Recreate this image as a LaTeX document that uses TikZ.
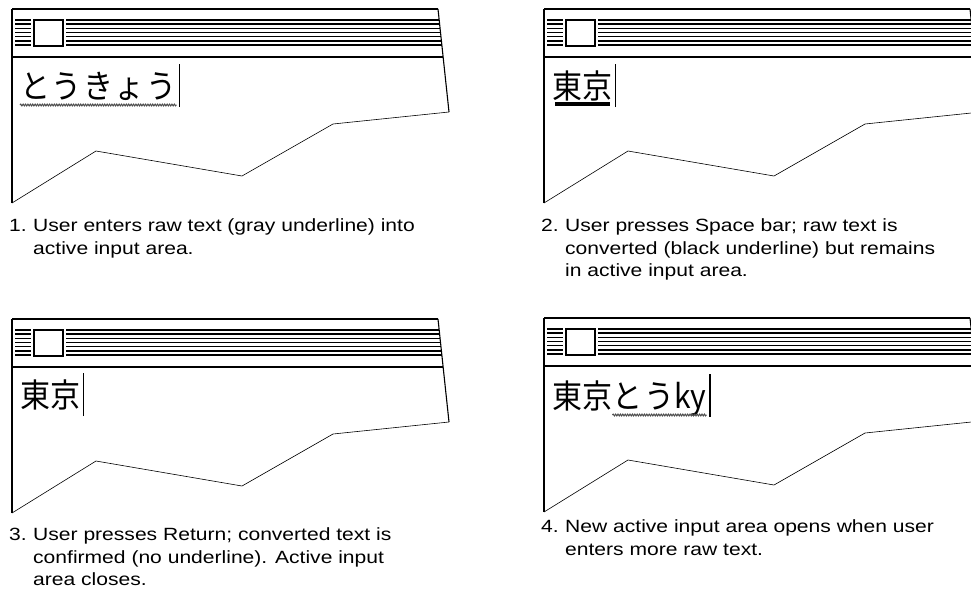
\documentclass[tikz,border=0pt]{standalone}
\usepackage{fontspec}
\usetikzlibrary{positioning, decorations.pathmorphing}
\newfontfamily\capfont[FakeStretch=1.19]{Liberation Sans}
\newfontfamily\jpfont[FakeStretch=0.91]{Noto Sans CJK JP}
\definecolor{rawgray}{gray}{0.3}
\newcommand{\stepno}[1]{\llap{\makebox[24pt][l]{#1}}}

\begin{document}
\begin{tikzpicture}[
  x=1pt, y=-1pt,
  winrule/.style={draw=black, line width=1.5pt},
  winedge/.style={draw=black, line width=1.1pt},
  wincut/.style={draw=black, line width=0.6pt},
  winbox/.style={draw=black, fill=white, line width=2pt},
  jp/.style={font=\jpfont\fontsize{33}{36}\selectfont, inner sep=0pt, anchor=base west},
  captext/.style={font=\capfont\fontsize{17.7}{22.5}\selectfont, inner sep=0pt,
                  anchor=north west, align=left, execute at begin node=\strut},
  rawline/.style={draw=rawgray, line width=1pt, decorate,
                  decoration={snake, amplitude=0.9pt, segment length=2.4pt}},
  convline/.style={draw=black, line width=4pt},
  caret/.style={draw=black, line width=1.8pt},
  pics/imewin/.style={code={
    \draw[winrule] (0,0) -- (426,0);
    \draw[winedge] (426,0) -- (437,103);
    \draw[wincut] (437,103) -- (321,115) -- (230,167) -- (84,142) -- (0,194);
    \draw[winedge] (0,194) -- (0,0);
    \foreach \ly in {11.0,15.2,19.3,23.5,27.7,31.8,36.0}{
      \draw[winrule] (3,\ly) -- (19,\ly);
      \draw[winrule] (54,\ly) -- ({426+11*\ly/103},\ly);
    }
    \draw[winbox] (22,10.5) rectangle (50.5,36.5);
    \draw[draw=black, line width=2pt] (0,48) -- (431,48);
  }}
]
  \useasboundingbox (0,0) rectangle (971,590);
  \clip (0,0) rectangle (971,590);

  % Step 1 -- raw text
  \begin{scope}[shift={(12,9)}]
    \pic {imewin};
    \node[jp] (raw1) at (8,89) {と\kern1.5ptう\kern1.5ptき\kern1.5ptょ\kern1.5ptう};
    \draw[rawline] ([yshift=-7pt]raw1.base west) -- ([yshift=-7pt]raw1.base east);
    \draw[caret] ([xshift=3pt,yshift=-9pt]raw1.base east) -- ([xshift=3pt,yshift=34pt]raw1.base east);
    \node[captext] (cap1) at (21,209.5)
      {\stepno{1.}User enters raw text (gray underline) into\\active input area.};
  \end{scope}

  % Step 2 -- converted
  \begin{scope}[shift={(544,9)}]
    \pic {imewin};
    \node[jp] (kan2) at (8,89) {東京};
    \draw[convline] ([xshift=3pt,yshift=-6pt]kan2.base west) -- ([xshift=-2pt,yshift=-6pt]kan2.base east);
    \draw[caret] ([xshift=3pt,yshift=-9pt]kan2.base east) -- ([xshift=3pt,yshift=34pt]kan2.base east);
    \node[captext] (cap2) at (21,209.5)
      {\stepno{2.}User presses Space bar; raw text is\\converted (black underline) but remains\\in active input area.};
  \end{scope}

  % Step 3 -- confirmed
  \begin{scope}[shift={(12,319)}]
    \pic {imewin};
    \node[jp] (kan3) at (8,88) {東京};
    \draw[caret] ([xshift=3pt,yshift=-9pt]kan3.base east) -- ([xshift=3pt,yshift=34pt]kan3.base east);
    \node[captext] (cap3) at (21,208.5)
      {\stepno{3.}User presses Return; converted text is\\confirmed (no underline). Active input\\area closes.};
  \end{scope}

  % Step 4 -- new input area
  \begin{scope}[shift={(544,318)}]
    \pic {imewin};
    \node[jp] (kan4) at (8,90) {東京};
    \node[jp] (raw4) at (kan4.base east) {と\kern1.5ptうky};
    \draw[rawline] ([yshift=-7pt]raw4.base west) -- ([yshift=-7pt]raw4.base east);
    \draw[caret] ([xshift=3pt,yshift=-9pt]raw4.base east) -- ([xshift=3pt,yshift=34pt]raw4.base east);
    \node[captext] (cap4) at (21,201.5)
      {\stepno{4.}New active input area opens when user\\enters more raw text.};
  \end{scope}
\end{tikzpicture}
\end{document}
